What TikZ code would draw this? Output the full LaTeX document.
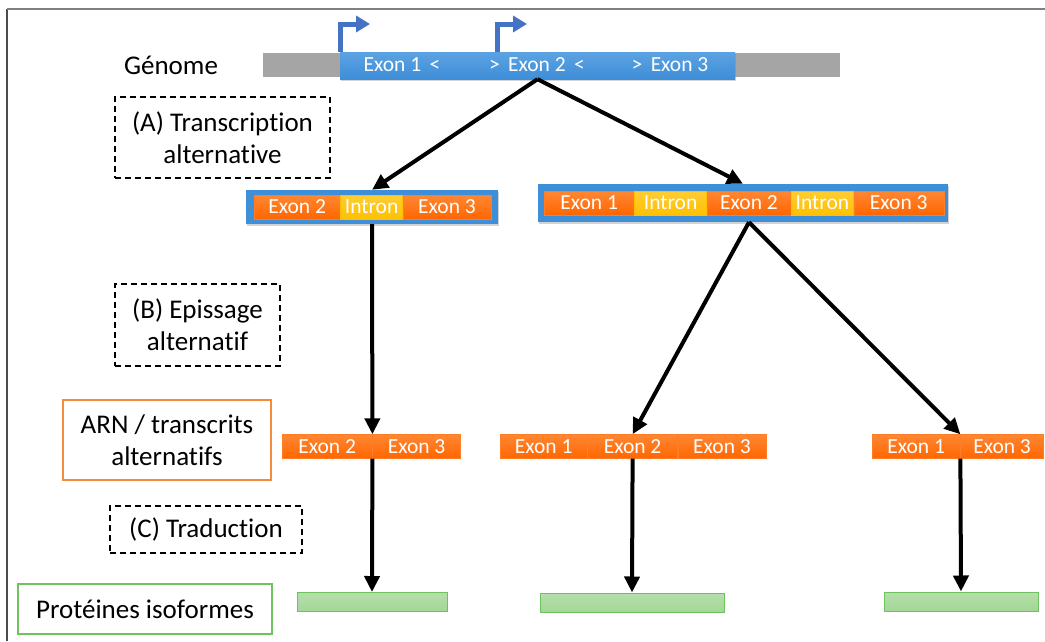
\documentclass[tikz,border=0pt]{standalone}
\usepackage{fontspec}
\setmainfont[Ligatures=NoCommon]{Carlito}
\usetikzlibrary{arrows.meta, positioning, shadows, calc}
\definecolor{genblue}{RGB}{62,142,216}
\definecolor{genbluelight}{RGB}{92,162,226}
\definecolor{exonorange}{RGB}{255,102,0}
\definecolor{exonlight}{RGB}{255,135,50}
\definecolor{intronyellow}{RGB}{255,192,0}
\definecolor{gengray}{RGB}{165,165,165}
\definecolor{protgreen}{RGB}{163,215,150}
\definecolor{protedge}{RGB}{110,195,95}
\definecolor{promblue}{RGB}{68,114,196}
\definecolor{arnorange}{RGB}{245,140,60}

\begin{document}
\begin{tikzpicture}[x=1pt, y=-1pt,
  label/.style={font=\fontsize{27}{32}\selectfont, align=center},
  stepbox/.style={draw=black, dashed, line width=1.5pt, dash pattern=on 6pt off 4pt, minimum width=#1},
  exon/.style={rectangle, inner sep=0pt, top color=exonlight, bottom color=exonorange, draw=exonorange!85!white, text=white, font=\fontsize{21.5}{24}\selectfont, minimum height=24pt, minimum width=#1},
  intron/.style={exon=#1, top color=intronyellow!80!white, bottom color=intronyellow, draw=intronyellow},
  transcript/.style={rectangle, fill=genblue, drop shadow={opacity=0.35, shadow xshift=1pt, shadow yshift=-2pt}},
  protein/.style={rectangle, inner sep=0pt, top color=protgreen!80!white, bottom color=protgreen, draw=protedge, line width=1pt, minimum height=19pt, minimum width=#1},
  flow/.style={line width=4pt, -{Triangle[length=16pt, width=15pt]}},
  tss/.style={promblue, line width=5pt, -{Triangle[length=14pt, width=16pt]}}
]
\useasboundingbox (0,0) rectangle (1045,641);
% frame
\draw[gray!60!black, line width=2pt] (7,641) -- (7,9);
\draw[gray, line width=2pt] (7,9) -- (1045,9);

% genome
\node[label] (genome) at (171,65) {Génome};
\fill[gengray] (263,53) rectangle (840,77);
\node[rectangle, top color=genbluelight, bottom color=genblue, minimum width=395pt, minimum height=27pt, inner sep=0pt, drop shadow={opacity=0.35, shadow xshift=1pt, shadow yshift=-2pt}] (exonbar) at (537.5,65.5) {};
\node[text=white, font=\fontsize{21.5}{24}\selectfont] (g1) at (402,65) {Exon 1 \,<};
\node[text=white, font=\fontsize{21.5}{24}\selectfont] (g2) at (537,65) {> \,Exon 2 \,<};
\node[text=white, font=\fontsize{21.5}{24}\selectfont] (g3) at (670,65) {> \,Exon 3};
\coordinate (tss1) at (340,52);
\coordinate (tss2) at (497,52);
\draw[tss] (tss1) -- ++(0,-28) -- ++(30,0);
\draw[tss] (tss2) -- ++(0,-28) -- ++(30,0);

% step labels
\node[stepbox=215pt, minimum height=81pt, label] (stepA) at (222.5,137.5) {(A) Transcription\\alternative};
\node[stepbox=165pt, minimum height=82pt, label] (stepB) at (197.5,325) {(B) Epissage\\alternatif};
\node[stepbox=192pt, minimum height=47pt, label] (stepC) at (206,529.5) {(C) Traduction};
\node[draw=arnorange, line width=1.5pt, minimum width=208pt, minimum height=80pt, label] (arn) at (167,440) {ARN / transcrits\\alternatifs};
\node[draw=protedge, line width=1.5pt, minimum width=254pt, minimum height=50pt, label] (prot) at (145,609) {Protéines isoformes};

% primary transcripts
\node[transcript, minimum width=252pt, minimum height=34pt] (t1) at (372,207) {};
\node[exon=86pt, anchor=west] (t1e2) at (254,207) {Exon 2};
\node[intron=62pt, right=0pt of t1e2] (t1i) {Intron};
\node[exon=88pt, right=0pt of t1i] (t1e3) {Exon 3};

\node[transcript, minimum width=410pt, minimum height=38pt] (t2) at (743,203) {};
\node[exon=90pt, anchor=west] (t2e1) at (544,203) {Exon 1};
\node[intron=72pt, right=0pt of t2e1] (t2i1) {Intron};
\node[exon=84pt, right=0pt of t2i1] (t2e2) {Exon 2};
\node[intron=62pt, right=0pt of t2e2] (t2i2) {Intron};
\node[exon=90pt, right=0pt of t2i2] (t2e3) {Exon 3};

% mature RNAs
\node[exon=90pt, anchor=west] (m1e2) at (282,446.5) {Exon 2};
\node[exon=88pt, right=0pt of m1e2] (m1e3) {Exon 3};

\node[exon=87pt, anchor=west] (m2e1) at (500,446.5) {Exon 1};
\node[exon=90pt, right=0pt of m2e1] (m2e2) {Exon 2};
\node[exon=88pt, right=0pt of m2e2] (m2e3) {Exon 3};

\node[exon=88pt, anchor=west] (m3e1) at (872,446.5) {Exon 1};
\node[exon=83pt, right=0pt of m3e1] (m3e3) {Exon 3};

% proteins
\node[protein=150pt] (p1) at (372,602) {};
\node[protein=184pt] (p2) at (632,602.5) {};
\node[protein=154pt] (p3) at (961,601.5) {};

% arrows
\draw[flow] (exonbar.south) -- (t1.north);
\draw[flow] (exonbar.south) -- (t2.north);
\draw[flow] (t1.south) -- (m1e2.north east);
\draw[flow] (t2e2.south |- t2.south) -- (m2e2.north);
\draw[flow] (t2e2.south |- t2.south) -- (m3e1.north east);
\draw[flow] (m1e2.south east) -- (p1.north);
\draw[flow] (m2e2.south) -- (p2.north);
\draw[flow] (m3e1.south east) -- (p3.north);
\end{tikzpicture}
\end{document}
